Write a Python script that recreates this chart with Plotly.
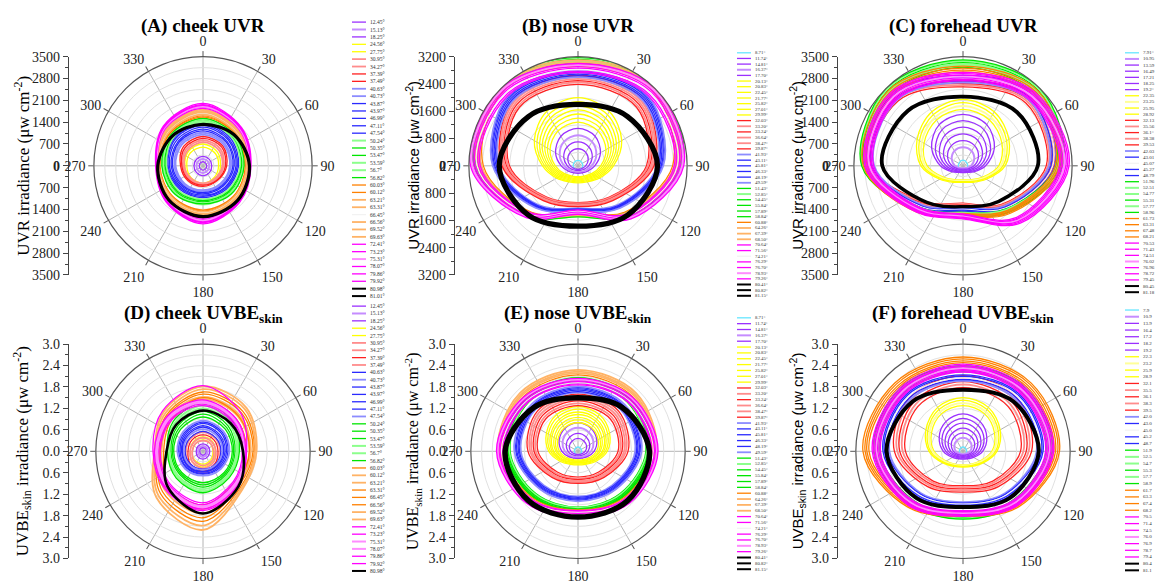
import plotly.graph_objects as go

W, H = 1161, 585
THETA8 = [0, 45, 90, 135, 180, 225, 270, 315]
THETA12 = [0, 30, 60, 90, 120, 150, 180, 210, 240, 270, 300, 330]

# ---------------- (A) cheek UVR ----------------
cheek_labels = ["12.45°", "15.13°", "18.25°", "24.56°", "27.75°", "30.95°", "34.27°", "37.39°", "37.49°",
                "40.63°", "40.73°", "43.87°", "43.97°", "46.99°", "47.11°", "47.54°", "50.24°", "50.35°",
                "53.47°", "53.59°", "56.7°", "56.82°", "60.03°", "60.12°", "63.21°", "63.31°", "66.45°",
                "66.56°", "69.52°", "69.63°", "72.41°", "73.23°", "75.31°", "78.07°", "79.86°", "79.92°",
                "80.98°", "81.01°"]
cheek_uvr = [
    [130, 120, 120, 130, 140, 130, 120, 125],
    [220, 210, 200, 210, 230, 220, 210, 215],
    [300, 290, 280, 300, 320, 300, 290, 295],
    [600, 560, 500, 520, 560, 540, 520, 580],
    [700, 640, 560, 580, 600, 600, 580, 660],
    [760, 720, 620, 560, 560, 560, 600, 700],
    [820, 780, 660, 600, 600, 600, 640, 760],
    [880, 850, 720, 640, 620, 640, 680, 820],
    [940, 900, 760, 660, 660, 680, 720, 880],
    [1000, 950, 860, 800, 780, 820, 880, 960],
    [1060, 1000, 900, 840, 820, 860, 920, 1020],
    [1120, 1060, 960, 880, 860, 900, 980, 1080],
    [1180, 1100, 1000, 920, 900, 940, 1020, 1120],
    [1240, 1160, 1060, 980, 940, 980, 1080, 1180],
    [1300, 1200, 1100, 1020, 980, 1020, 1120, 1240],
    [1350, 1250, 1140, 1060, 1020, 1060, 1160, 1280],
    [1400, 1300, 1200, 1120, 1080, 1120, 1180, 1320],
    [1450, 1340, 1240, 1160, 1120, 1160, 1220, 1360],
    [1480, 1380, 1280, 1200, 1160, 1200, 1260, 1400],
    [1500, 1400, 1300, 1240, 1200, 1240, 1280, 1420],
    [1440, 1360, 1300, 1260, 1240, 1260, 1300, 1380],
    [1520, 1420, 1320, 1280, 1220, 1280, 1320, 1440],
    [1560, 1460, 1360, 1380, 1420, 1380, 1380, 1480],
    [1600, 1480, 1380, 1400, 1460, 1400, 1400, 1500],
    [1640, 1500, 1400, 1420, 1480, 1420, 1420, 1540],
    [1680, 1520, 1420, 1440, 1500, 1440, 1440, 1560],
    [1700, 1540, 1440, 1460, 1520, 1460, 1440, 1580],
    [1720, 1560, 1440, 1480, 1540, 1480, 1460, 1600],
    [1760, 1580, 1460, 1500, 1580, 1500, 1460, 1620],
    [1800, 1600, 1480, 1520, 1600, 1520, 1480, 1660],
    [1840, 1640, 1480, 1560, 1680, 1560, 1460, 1700],
    [1880, 1660, 1500, 1580, 1720, 1580, 1480, 1720],
    [1900, 1680, 1500, 1600, 1760, 1600, 1480, 1740],
    [1940, 1700, 1520, 1620, 1800, 1620, 1500, 1760],
    [1960, 1720, 1520, 1640, 1820, 1640, 1500, 1780],
    [2000, 1740, 1540, 1660, 1860, 1660, 1520, 1800],
    [1320, 1400, 1480, 1560, 1620, 1540, 1440, 1360],
    [1340, 1420, 1500, 1580, 1640, 1560, 1460, 1380],
]
cheek_uvr_colors = ["p", "pl", "p", "y", "y", "rl", "rl", "r", "r", "bl", "bl", "b", "b", "b", "b", "b",
                    "gl", "g", "g", "gl", "gl", "g", "o", "o", "ol", "ol", "w", "ol", "ol", "ol",
                    "m", "m", "ml", "m", "m", "m", "k", "k"]

# ---------------- (B) nose UVR ----------------
nose_labels = ["8.71°", "11.74°", "14.81°", "16.37°", "17.70°", "20.13°", "20.83°", "22.45°", "21.77°",
               "25.82°", "27.01°", "29.99°", "32.03°", "33.20°", "33.24°", "36.64°", "38.47°", "39.87°",
               "41.93°", "43.11°", "45.81°", "46.33°", "48.19°", "49.59°", "51.43°", "52.85°", "54.45°",
               "55.84°", "57.89°", "58.84°", "60.88°", "64.26°", "67.39°", "68.50°", "70.64°", "71.56°",
               "74.21°", "76.29°", "76.70°", "78.93°", "79.26°", "80.41°", "80.82°", "81.15°"]
nose_uvr = [
    [160, 150, 140, 130, 130, 130, 140, 150],
    [500, 456, 345, 224, 145, 110, 100, 110, 145, 224, 345, 456],
    [700, 638, 483, 313, 203, 153, 140, 153, 203, 313, 483, 638],
    [900, 821, 621, 402, 261, 197, 180, 197, 261, 402, 621, 821],
    [1100, 1003, 759, 492, 319, 241, 220, 241, 319, 492, 759, 1003],
    [1280, 1178, 947, 666, 461, 346, 320, 346, 461, 666, 947, 1178],
    [1400, 1288, 1036, 728, 504, 378, 350, 378, 504, 728, 1036, 1288],
    [1520, 1398, 1125, 790, 547, 410, 380, 410, 547, 790, 1125, 1398],
    [1640, 1509, 1214, 853, 590, 443, 410, 443, 590, 853, 1214, 1509],
    [1760, 1619, 1302, 915, 634, 475, 440, 475, 634, 915, 1302, 1619],
    [1880, 1730, 1391, 978, 677, 508, 470, 508, 677, 978, 1391, 1730],
    [2000, 1840, 1480, 1040, 720, 540, 500, 540, 720, 1040, 1480, 1840],
    [2390, 2430, 2010, 1300, 1080, 1300, 2010, 2430],
    [2450, 2480, 2050, 1325, 1105, 1325, 2050, 2480],
    [2500, 2540, 2100, 1355, 1130, 1355, 2100, 2540],
    [2550, 2590, 2140, 1380, 1150, 1380, 2140, 2590],
    [2610, 2650, 2185, 1410, 1175, 1410, 2185, 2650],
    [2660, 2700, 2230, 1440, 1200, 1440, 2230, 2700],
    [2600, 2700, 2325, 1630, 1245, 1630, 2325, 2700],
    [2645, 2740, 2360, 1655, 1265, 1655, 2360, 2740],
    [2690, 2785, 2400, 1680, 1285, 1680, 2400, 2785],
    [2730, 2830, 2440, 1705, 1305, 1705, 2440, 2830],
    [2770, 2870, 2475, 1735, 1325, 1735, 2475, 2870],
    [2800, 2900, 2500, 1750, 1340, 1750, 2500, 2900],
    [3020, 3160, 2840, 1950, 1395, 1950, 2840, 3160],
    [3070, 3210, 2880, 1985, 1420, 1985, 2880, 3210],
    [3120, 3260, 2930, 2015, 1440, 2015, 2930, 3260],
    [3170, 3315, 2975, 2050, 1460, 2050, 2975, 3315],
    [3220, 3365, 3020, 2080, 1485, 2080, 3020, 3365],
    [3250, 3400, 3050, 2100, 1500, 2100, 3050, 3400],
    [2915, 3100, 2775, 1925, 1365, 1925, 2775, 3100],
    [2975, 3170, 2830, 1970, 1390, 1970, 2830, 3170],
    [3040, 3235, 2890, 2010, 1420, 2010, 2890, 3235],
    [3100, 3300, 2950, 2050, 1450, 2050, 2950, 3300],
    [2730, 2910, 2820, 2000, 1290, 1955, 2865, 2910],
    [2775, 2960, 2870, 2035, 1315, 1990, 2915, 2960],
    [2820, 3010, 2915, 2070, 1335, 2020, 2960, 3010],
    [2865, 3055, 2960, 2100, 1355, 2055, 3010, 3055],
    [2910, 3105, 3005, 2135, 1375, 2085, 3055, 3105],
    [2955, 3150, 3055, 2165, 1400, 2120, 3105, 3150],
    [3000, 3200, 3100, 2200, 1420, 2150, 3150, 3200],
    [1760, 2010, 2290, 2010, 1730, 2010, 2270, 2010],
    [1800, 2050, 2330, 2050, 1770, 2050, 2310, 2050],
    [1840, 2090, 2370, 2090, 1810, 2090, 2350, 2090],
]
nose_colors = ["c", "p", "p", "pl", "p", "y", "y", "y", "y", "y", "y", "y",
               "r", "rl", "r", "rl", "rl", "r", "bl", "b", "b", "b", "b", "bl",
               "g", "gl", "g", "g", "g", "g", "o", "ol", "ol", "ol",
               "m", "m", "w", "m", "m", "ml", "m", "k", "k", "k"]

# ---------------- (C) forehead UVR ----------------
forehead_labels = ["7.91°", "10.95", "13.59", "16.49", "17.21", "18.25", "19.2°", "22.35", "23.25", "25.95",
                   "28.92", "32.13", "35.56", "36.1°", "38.38", "39.53", "42.03", "43.01", "45.07", "45.27",
                   "48.79", "51.96", "52.51", "54.77", "55.31", "57.77", "58.96", "61.73", "63.31", "67.48",
                   "68.21", "70.53", "71.43", "74.51", "76.02", "76.96", "78.72", "79.45", "80.45", "81.18"]
forehead_uvr = [
    [180, 160, 150, 140, 130, 140, 150, 160],
    [595, 550, 419, 261, 142, 88, 79, 88, 142, 261, 419, 550],
    [810, 749, 571, 355, 194, 120, 108, 120, 194, 355, 571, 749],
    [1025, 948, 723, 449, 245, 152, 136, 152, 245, 449, 723, 948],
    [1240, 1147, 874, 543, 296, 184, 165, 184, 296, 543, 874, 1147],
    [1450, 1341, 1022, 635, 347, 215, 193, 215, 347, 635, 1022, 1341],
    [1650, 1526, 1163, 723, 394, 244, 220, 244, 394, 723, 1163, 1526],
    [1810, 1700, 1444, 1148, 731, 518, 451, 518, 731, 1148, 1444, 1700],
    [1915, 1798, 1528, 1214, 774, 548, 477, 548, 774, 1214, 1528, 1798],
    [2025, 1901, 1616, 1284, 818, 579, 504, 579, 818, 1284, 1616, 1901],
    [2130, 2000, 1700, 1350, 860, 610, 530, 610, 860, 1350, 1700, 2000],
    [2530, 2850, 2670, 1750, 1195, 1655, 2945, 2945],
    [2585, 2915, 2725, 1785, 1220, 1690, 3010, 3010],
    [2640, 2975, 2785, 1825, 1250, 1730, 3070, 3070],
    [2695, 3040, 2840, 1860, 1275, 1765, 3135, 3135],
    [2750, 3100, 2900, 1900, 1300, 1800, 3200, 3200],
    [2670, 2990, 2760, 1840, 1335, 1795, 2850, 2990],
    [2725, 3055, 2820, 1880, 1365, 1835, 2915, 3055],
    [2785, 3120, 2880, 1920, 1390, 1870, 2975, 3120],
    [2840, 3185, 2940, 1960, 1420, 1910, 3040, 3185],
    [2900, 3250, 3000, 2000, 1450, 1950, 3100, 3250],
    [3160, 3255, 2975, 1955, 1490, 1905, 3020, 3255],
    [3215, 3310, 3025, 1985, 1510, 1935, 3070, 3310],
    [3265, 3360, 3070, 2015, 1535, 1970, 3120, 3360],
    [3315, 3415, 3120, 2050, 1560, 2000, 3170, 3415],
    [3365, 3465, 3170, 2080, 1585, 2030, 3220, 3465],
    [3400, 3500, 3200, 2100, 1600, 2050, 3250, 3500],
    [3010, 3195, 2960, 2020, 1525, 1975, 3010, 3195],
    [3070, 3265, 3025, 2065, 1555, 2015, 3070, 3265],
    [3135, 3330, 3085, 2105, 1590, 2060, 3135, 3330],
    [3200, 3400, 3150, 2150, 1620, 2100, 3200, 3400],
    [2730, 3005, 3095, 2365, 1545, 1910, 2865, 3005],
    [2775, 3050, 3145, 2405, 1575, 1945, 2915, 3050],
    [2820, 3100, 3195, 2445, 1600, 1975, 2960, 3100],
    [2865, 3150, 3245, 2485, 1625, 2005, 3010, 3150],
    [2910, 3200, 3300, 2520, 1650, 2035, 3055, 3200],
    [2955, 3250, 3350, 2560, 1675, 2070, 3105, 3250],
    [3000, 3300, 3400, 2600, 1700, 2100, 3150, 3300],
    [2200, 2420, 2380, 1600, 1300, 1640, 2570, 2480],
    [2240, 2460, 2420, 1630, 1320, 1670, 2610, 2520],
]
forehead_colors = ["c", "pl", "p", "p", "p", "p", "p", "y", "yl", "y", "y",
                   "r", "rl", "r", "rl", "r", "bl", "b", "w", "b", "b",
                   "g", "gl", "gl", "g", "gl", "g", "o", "o", "o", "o",
                   "m", "m", "m", "ml", "m", "m", "m", "k", "k"]

# ---------------- (D) cheek UVBEskin ----------------
cheek_labels_d = cheek_labels[:37]
cheek_uvbe = [
    [0.10, 0.10, 0.09, 0.10, 0.11, 0.10, 0.09, 0.10],
    [0.15, 0.14, 0.13, 0.14, 0.16, 0.15, 0.14, 0.15],
    [0.21, 0.20, 0.19, 0.20, 0.22, 0.21, 0.19, 0.20],
    [0.32, 0.30, 0.28, 0.32, 0.36, 0.34, 0.30, 0.30],
    [0.40, 0.38, 0.34, 0.38, 0.44, 0.42, 0.36, 0.38],
    [0.30, 0.30, 0.30, 0.36, 0.40, 0.36, 0.30, 0.30],
    [0.38, 0.36, 0.36, 0.42, 0.48, 0.42, 0.36, 0.36],
    [0.46, 0.44, 0.42, 0.48, 0.56, 0.50, 0.42, 0.44],
    [0.54, 0.50, 0.48, 0.54, 0.62, 0.56, 0.48, 0.50],
    [0.56, 0.52, 0.50, 0.50, 0.50, 0.50, 0.50, 0.52],
    [0.62, 0.58, 0.54, 0.52, 0.52, 0.54, 0.54, 0.58],
    [0.68, 0.62, 0.58, 0.56, 0.56, 0.58, 0.58, 0.62],
    [0.72, 0.66, 0.62, 0.58, 0.58, 0.60, 0.60, 0.66],
    [0.78, 0.72, 0.66, 0.62, 0.62, 0.64, 0.64, 0.70],
    [0.82, 0.76, 0.70, 0.66, 0.64, 0.66, 0.68, 0.74],
    [0.86, 0.80, 0.74, 0.70, 0.68, 0.70, 0.72, 0.78],
    [0.96, 0.88, 0.82, 0.84, 0.88, 0.84, 0.82, 0.88],
    [1.04, 0.94, 0.86, 0.88, 0.94, 0.88, 0.86, 0.94],
    [1.12, 1.00, 0.90, 0.92, 1.00, 0.92, 0.90, 1.00],
    [1.20, 1.06, 0.94, 0.96, 1.06, 0.98, 0.94, 1.06],
    [1.28, 1.12, 0.98, 1.00, 1.12, 1.02, 0.98, 1.12],
    [1.36, 1.18, 1.02, 1.04, 1.16, 1.06, 1.00, 1.18],
    [1.40, 1.30, 1.22, 1.24, 1.50, 1.36, 1.10, 1.24],
    [1.46, 1.38, 1.30, 1.30, 1.62, 1.44, 1.16, 1.30],
    [1.52, 1.44, 1.34, 1.36, 1.74, 1.52, 1.20, 1.36],
    [1.60, 1.52, 1.40, 1.40, 1.86, 1.60, 1.24, 1.40],
    [1.50, 1.40, 1.30, 1.30, 1.60, 1.46, 1.20, 1.30],
    [1.66, 1.58, 1.44, 1.46, 1.96, 1.68, 1.28, 1.44],
    [1.74, 1.66, 1.46, 1.50, 2.08, 1.76, 1.32, 1.50],
    [1.82, 1.72, 1.50, 1.54, 2.20, 1.84, 1.36, 1.56],
    [1.28, 1.16, 1.10, 1.20, 1.44, 1.30, 1.20, 1.24],
    [1.32, 1.20, 1.14, 1.24, 1.50, 1.34, 1.24, 1.28],
    [1.36, 1.24, 1.16, 1.28, 1.54, 1.38, 1.28, 1.32],
    [1.40, 1.28, 1.18, 1.32, 1.58, 1.42, 1.32, 1.36],
    [1.44, 1.30, 1.20, 1.36, 1.62, 1.46, 1.36, 1.40],
    [1.84, 1.50, 1.22, 1.40, 1.66, 1.50, 1.40, 1.60],
    [1.14, 1.10, 1.12, 1.40, 1.74, 1.40, 1.02, 1.06],
]
cheek_uvbe_colors = ["p", "pl", "p", "y", "y", "rl", "rl", "r", "rl", "b", "bl", "b", "b", "b", "b", "bl",
                     "g", "g", "g", "gl", "gl", "g", "o", "ol", "ol", "o", "o", "o", "ol", "ol",
                     "m", "m", "ml", "ml", "m", "m", "k"]

# ---------------- (E) nose UVBEskin ----------------
nose_uvbe = [
    [0.12, 0.11, 0.10, 0.10, 0.10, 0.10, 0.10, 0.11],
    [0.36, 0.33, 0.28, 0.20, 0.13, 0.10, 0.09, 0.10, 0.13, 0.20, 0.28, 0.33],
    [0.50, 0.46, 0.38, 0.28, 0.19, 0.14, 0.13, 0.14, 0.19, 0.28, 0.38, 0.46],
    [0.66, 0.61, 0.50, 0.37, 0.25, 0.18, 0.17, 0.18, 0.25, 0.37, 0.50, 0.61],
    [0.80, 0.74, 0.61, 0.45, 0.30, 0.22, 0.20, 0.22, 0.30, 0.45, 0.61, 0.74],
    [0.80, 0.76, 0.65, 0.52, 0.36, 0.27, 0.24, 0.27, 0.36, 0.52, 0.65, 0.76],
    [0.88, 0.83, 0.71, 0.58, 0.40, 0.30, 0.27, 0.30, 0.40, 0.58, 0.71, 0.83],
    [0.95, 0.90, 0.77, 0.62, 0.43, 0.32, 0.29, 0.32, 0.43, 0.62, 0.77, 0.90],
    [1.03, 0.98, 0.84, 0.68, 0.47, 0.35, 0.31, 0.35, 0.47, 0.68, 0.84, 0.98],
    [1.10, 1.04, 0.89, 0.72, 0.50, 0.37, 0.33, 0.37, 0.50, 0.72, 0.89, 1.04],
    [1.18, 1.12, 0.96, 0.77, 0.53, 0.40, 0.36, 0.40, 0.53, 0.77, 0.96, 1.12],
    [1.25, 1.19, 1.02, 0.82, 0.57, 0.42, 0.38, 0.42, 0.57, 0.82, 1.02, 1.19],
    [1.28, 1.28, 1.12, 0.82, 0.72, 0.82, 1.12, 1.28],
    [1.34, 1.34, 1.18, 0.87, 0.76, 0.87, 1.18, 1.34],
    [1.41, 1.41, 1.23, 0.91, 0.79, 0.91, 1.23, 1.41],
    [1.47, 1.47, 1.29, 0.95, 0.83, 0.95, 1.29, 1.47],
    [1.54, 1.54, 1.34, 0.99, 0.86, 0.99, 1.34, 1.54],
    [1.60, 1.60, 1.40, 1.03, 0.90, 1.03, 1.40, 1.60],
    [1.64, 1.67, 1.60, 1.35, 1.26, 1.35, 1.60, 1.67],
    [1.67, 1.70, 1.64, 1.38, 1.29, 1.38, 1.64, 1.70],
    [1.71, 1.74, 1.67, 1.41, 1.32, 1.41, 1.67, 1.74],
    [1.75, 1.78, 1.71, 1.44, 1.34, 1.44, 1.71, 1.78],
    [1.78, 1.81, 1.74, 1.47, 1.37, 1.47, 1.74, 1.81],
    [1.82, 1.85, 1.78, 1.50, 1.40, 1.50, 1.78, 1.85],
    [1.92, 1.95, 1.90, 1.67, 1.56, 1.67, 1.90, 1.95],
    [1.95, 1.98, 1.93, 1.70, 1.59, 1.70, 1.93, 1.98],
    [1.98, 2.02, 1.96, 1.73, 1.61, 1.73, 1.96, 2.02],
    [2.01, 2.05, 1.99, 1.76, 1.64, 1.76, 1.99, 2.05],
    [2.04, 2.08, 2.02, 1.78, 1.66, 1.78, 2.02, 2.08],
    [2.06, 2.10, 2.04, 1.80, 1.68, 1.80, 2.04, 2.10],
    [2.14, 2.16, 2.07, 1.83, 1.64, 1.83, 2.11, 2.16],
    [2.19, 2.21, 2.11, 1.87, 1.67, 1.87, 2.15, 2.21],
    [2.23, 2.25, 2.16, 1.91, 1.71, 1.91, 2.20, 2.25],
    [2.28, 2.30, 2.20, 1.95, 1.74, 1.95, 2.24, 2.30],
    [1.86, 1.96, 2.04, 1.87, 1.66, 1.87, 2.07, 1.96],
    [1.89, 1.99, 2.07, 1.90, 1.68, 1.90, 2.11, 1.99],
    [1.92, 2.02, 2.11, 1.93, 1.71, 1.93, 2.14, 2.02],
    [1.95, 2.05, 2.14, 1.96, 1.74, 1.96, 2.18, 2.05],
    [1.98, 2.09, 2.17, 1.99, 1.77, 1.99, 2.21, 2.09],
    [2.01, 2.12, 2.21, 2.02, 1.79, 2.02, 2.25, 2.12],
    [2.04, 2.15, 2.24, 2.05, 1.82, 2.05, 2.28, 2.15],
    [1.46, 1.70, 1.96, 1.92, 1.80, 1.92, 2.00, 1.70],
    [1.50, 1.74, 2.00, 1.96, 1.84, 1.96, 2.04, 1.74],
    [1.54, 1.78, 2.04, 2.00, 1.88, 2.00, 2.08, 1.78],
]

# ---------------- (F) forehead UVBEskin ----------------
forehead_labels_f = ["7.9", "10.9", "13.9", "16.4", "17.2", "18.2", "19.2", "22.3", "23.2", "25.9",
                     "28.9", "32.1", "35.5", "36.1", "38.3", "39.5", "42.0", "43.0", "45.0", "45.2",
                     "48.7", "51.9", "52.5", "54.7", "55.3", "57.7", "58.9", "61.7", "63.3", "67.4",
                     "68.2", "70.5", "71.4", "74.5", "76.0", "76.9", "78.7", "79.4", "80.4", "81.1"]
forehead_uvbe = [
    [0.12, 0.11, 0.10, 0.10, 0.10, 0.10, 0.10, 0.11],
    [0.38, 0.35, 0.28, 0.20, 0.12, 0.09, 0.08, 0.09, 0.12, 0.20, 0.28, 0.35],
    [0.51, 0.47, 0.38, 0.27, 0.17, 0.12, 0.11, 0.12, 0.17, 0.27, 0.38, 0.47],
    [0.65, 0.59, 0.48, 0.34, 0.21, 0.15, 0.14, 0.15, 0.21, 0.34, 0.48, 0.59],
    [0.79, 0.72, 0.58, 0.41, 0.26, 0.18, 0.17, 0.18, 0.26, 0.41, 0.58, 0.72],
    [0.92, 0.84, 0.68, 0.48, 0.30, 0.21, 0.19, 0.21, 0.30, 0.48, 0.68, 0.84],
    [1.05, 0.96, 0.77, 0.55, 0.34, 0.24, 0.22, 0.24, 0.34, 0.55, 0.77, 0.96],
    [1.28, 1.21, 1.02, 0.81, 0.55, 0.42, 0.38, 0.42, 0.55, 0.81, 1.02, 1.21],
    [1.35, 1.28, 1.08, 0.85, 0.58, 0.44, 0.40, 0.44, 0.58, 0.85, 1.08, 1.28],
    [1.43, 1.35, 1.14, 0.91, 0.62, 0.46, 0.42, 0.46, 0.62, 0.91, 1.14, 1.35],
    [1.50, 1.42, 1.20, 0.95, 0.65, 0.49, 0.44, 0.49, 0.65, 0.95, 1.20, 1.42],
    [1.78, 1.78, 1.61, 1.18, 0.96, 1.18, 1.61, 1.78],
    [1.87, 1.87, 1.69, 1.23, 1.00, 1.23, 1.69, 1.87],
    [1.95, 1.95, 1.77, 1.29, 1.05, 1.29, 1.77, 1.95],
    [2.04, 2.04, 1.84, 1.34, 1.09, 1.34, 1.84, 2.04],
    [2.12, 2.12, 1.92, 1.40, 1.14, 1.40, 1.92, 2.12],
    [1.97, 2.07, 2.06, 1.66, 1.42, 1.66, 2.06, 2.07],
    [2.01, 2.12, 2.11, 1.69, 1.45, 1.69, 2.11, 2.12],
    [2.05, 2.16, 2.15, 1.73, 1.48, 1.73, 2.15, 2.16],
    [2.10, 2.21, 2.20, 1.76, 1.51, 1.76, 2.20, 2.21],
    [2.14, 2.25, 2.24, 1.80, 1.54, 1.80, 2.24, 2.25],
    [2.23, 2.33, 2.33, 1.95, 1.77, 1.95, 2.33, 2.33],
    [2.27, 2.36, 2.36, 1.98, 1.80, 1.98, 2.36, 2.36],
    [2.30, 2.40, 2.40, 2.02, 1.82, 2.02, 2.40, 2.40],
    [2.34, 2.44, 2.44, 2.05, 1.85, 2.05, 2.44, 2.44],
    [2.38, 2.48, 2.48, 2.08, 1.88, 2.08, 2.48, 2.48],
    [2.40, 2.50, 2.50, 2.10, 1.90, 2.10, 2.50, 2.50],
    [2.48, 2.54, 2.54, 2.07, 1.71, 2.07, 2.63, 2.54],
    [2.53, 2.59, 2.59, 2.11, 1.75, 2.11, 2.69, 2.59],
    [2.59, 2.65, 2.65, 2.16, 1.78, 2.16, 2.74, 2.65],
    [2.64, 2.70, 2.70, 2.20, 1.82, 2.20, 2.80, 2.70],
    [2.22, 2.28, 2.31, 1.96, 1.66, 1.96, 2.31, 2.28],
    [2.26, 2.31, 2.35, 1.99, 1.68, 1.99, 2.35, 2.31],
    [2.29, 2.35, 2.39, 2.02, 1.71, 2.02, 2.39, 2.35],
    [2.33, 2.39, 2.43, 2.05, 1.74, 2.05, 2.43, 2.39],
    [2.37, 2.43, 2.46, 2.09, 1.77, 2.09, 2.46, 2.43],
    [2.40, 2.46, 2.50, 2.12, 1.79, 2.12, 2.50, 2.46],
    [2.44, 2.50, 2.54, 2.15, 1.82, 2.15, 2.54, 2.50],
    [1.70, 1.96, 2.10, 1.83, 1.54, 1.83, 2.12, 1.96],
    [1.74, 2.00, 2.14, 1.87, 1.58, 1.87, 2.16, 2.00],
]

# ---------------- styles ----------------
PALETTE = {
    "c": "#66e6ff", "p": "#9b30ff", "pl": "#c58cff",
    "y": "#ffff00", "yl": "#ffff99",
    "r": "#ff2020", "rl": "#ff8c8c",
    "b": "#2a2aff", "bl": "#8c8cff",
    "g": "#00e600", "gl": "#8cff8c",
    "o": "#ff8000", "ol": "#ffb366",
    "m": "#ff00ff", "ml": "#ff8cff",
    "k": "#000000", "w": "#f2f2f2",
}
WIDTH = {"k": 2.6, "pl": 2.0, "yl": 2.0, "rl": 1.8, "bl": 1.8, "gl": 2.0, "ol": 1.8, "ml": 2.0, "w": 1.2}

SERIF = "Liberation Serif"
SANS = "Liberation Sans"

panels = [
    dict(title="<b>(A) cheek UVR</b>", labels=cheek_labels, values=cheek_uvr, colors=cheek_uvr_colors,
         cx=203, cy=163, r=112, rmax=3500, step=700, grid=350, fmt="{:.0f}",
         ytitle="UVR irradiance (μw cm<sup>-2</sup>)", yfont=SERIF, ysize=17, ax=69, tx=22,
         lx=352, ly=15.5, dy=7.6, lfs=5.5),
    dict(title="<b>(B) nose UVR</b>", labels=nose_labels, values=nose_uvr, colors=nose_colors,
         cx=578, cy=163, r=112, rmax=3200, step=800, grid=400, fmt="{:.0f}",
         ytitle="UVR irradiance (μw cm<sup>-2</sup>)", yfont=SANS, ysize=15, ax=455, tx=413,
         lx=737, ly=47, dy=5.8, lfs=4.8),
    dict(title="<b>(C) forehead UVR</b>", labels=forehead_labels, values=forehead_uvr, colors=forehead_colors,
         cx=963, cy=163, r=112, rmax=3500, step=700, grid=350, fmt="{:.0f}",
         ytitle="UVR irradiance (μw cm<sup>-2</sup>)", yfont=SANS, ysize=15, ax=838, tx=797,
         lx=1125, ly=47, dy=6.3, lfs=5.0),
    dict(title="<b>(D) cheek UVBE<sub>skin</sub></b>", labels=cheek_labels_d, values=cheek_uvbe,
         colors=cheek_uvbe_colors, cx=203, cy=456, r=110, rmax=3.0, step=0.6, grid=0.3, fmt="{:.1f}",
         ytitle="UVBE<sub>skin</sub> irradiance (μw cm<sup>-2</sup>)", yfont=SERIF, ysize=17, ax=69, tx=22,
         lx=352, ly=307, dy=7.55, lfs=5.5),
    dict(title="<b>(E) nose UVBE<sub>skin</sub></b>", labels=nose_labels, values=nose_uvbe, colors=nose_colors,
         cx=578, cy=456, r=110, rmax=3.0, step=0.6, grid=0.3, fmt="{:.1f}",
         ytitle="UVBE<sub>skin</sub> irradiance (μw cm<sup>-2</sup>)", yfont=SERIF, ysize=16, ax=455, tx=413,
         lx=737, ly=319, dy=6.0, lfs=4.8),
    dict(title="<b>(F) forehead UVBE<sub>skin</sub></b>", labels=forehead_labels_f, values=forehead_uvbe,
         colors=forehead_colors, cx=963, cy=456, r=110, rmax=3.0, step=0.6, grid=0.3, fmt="{:.1f}",
         ytitle="UVBE<sub>skin</sub> irradiance (μw cm<sup>-2</sup>)", yfont=SANS, ysize=15, ax=838, tx=797,
         lx=1125, ly=311, dy=6.85, lfs=5.0),
]


def px(x):
    return x / W


def py(y):
    return 1 - y / H


fig = go.Figure()
layout = dict(width=W, height=H, margin=dict(l=0, r=0, t=0, b=0), autosize=False,
              paper_bgcolor="white", plot_bgcolor="white", showlegend=False)
annotations = []
shapes = []

ang_vals = list(range(0, 360, 30))

for k, p in enumerate(panels):
    n = k + 1
    pid = "polar" if n == 1 else f"polar{n}"
    for lab, vals, ck in zip(p["labels"], p["values"], p["colors"]):
        theta = THETA12 if len(vals) == 12 else THETA8
        # closed loop: repeat the first point exactly so the spline is smoothed as a closed curve
        rr = list(vals) + [vals[0]]
        th = theta + [theta[0]]
        fig.add_trace(go.Scatterpolar(
            r=rr, theta=th, mode="lines", subplot=pid, name=lab,
            line=dict(color=PALETTE[ck], width=WIDTH.get(ck, 1.3), shape="spline", smoothing=1.0),
            hoverinfo="skip", showlegend=False))
    nrings = int(round(p["rmax"] / p["grid"]))
    rgrid = [p["grid"] * i for i in range(1, nrings + 1)]
    layout[pid] = dict(
        domain=dict(x=[px(p["cx"] - p["r"]), px(p["cx"] + p["r"])],
                    y=[py(p["cy"] + p["r"]), py(p["cy"] - p["r"])]),
        bgcolor="white",
        angularaxis=dict(rotation=90, direction="clockwise", tickmode="array",
                         tickvals=ang_vals, ticktext=[str(a) for a in ang_vals],
                         showline=True, linecolor="#555555", linewidth=1.2,
                         ticks="outside", ticklen=5, tickcolor="#555555",
                         showgrid=True, gridcolor="#b4b4b4", gridwidth=0.9,
                         tickfont=dict(family=SERIF, size=14, color="#222222")),
        radialaxis=dict(range=[0, p["rmax"]], showticklabels=False, ticks="", showline=False,
                        tickmode="array", tickvals=rgrid, gridcolor="#e1e1e1", gridwidth=0.8),
    )
    # vertical mirrored scale on the left
    nst = int(round(p["rmax"] / p["step"]))
    tv = [p["step"] * i for i in range(-nst, nst + 1)]
    tt = []
    for v in tv:
        s = p["fmt"].format(abs(v))
        if abs(v) < 1e-9 and p["fmt"] == "{:.0f}":
            s = "<b>0</b>"
        tt.append(s)
    xa = "xaxis" if n == 1 else f"xaxis{n}"
    ya = "yaxis" if n == 1 else f"yaxis{n}"
    xr = "x" if n == 1 else f"x{n}"
    yr = "y" if n == 1 else f"y{n}"
    fig.add_trace(go.Scatter(x=[0.5], y=[0], xaxis=xr, yaxis=yr, mode="markers",
                             marker=dict(opacity=0), hoverinfo="skip", showlegend=False))
    layout[xa] = dict(domain=[px(p["ax"]), px(p["ax"] + 2)], range=[0, 1], visible=False, anchor=yr)
    layout[ya] = dict(domain=[py(p["cy"] + p["r"]), py(p["cy"] - p["r"])], range=[-p["rmax"], p["rmax"]],
                      anchor=xr, side="left", tickmode="array", tickvals=tv, ticktext=tt,
                      ticks="outside", ticklen=5, tickcolor="#444444", showline=True,
                      linecolor="#444444", linewidth=1.2, showgrid=False, zeroline=False,
                      tickfont=dict(family=SERIF, size=14, color="#222222"),
                      minor=dict(tickmode="linear", tick0=0, dtick=p["step"] / 2, ticks="outside",
                                 ticklen=3, tickcolor="#444444", showgrid=False),
                      fixedrange=True)
    # title
    annotations.append(dict(x=px(p["cx"]), y=py(20 if n <= 3 else 315), xref="paper", yref="paper",
                            text=p["title"], showarrow=False, xanchor="center", yanchor="middle",
                            font=dict(family=SERIF, size=19, color="black")))
    # y title
    annotations.append(dict(x=px(p["tx"]), y=py(p["cy"]), xref="paper", yref="paper",
                            text=p["ytitle"], showarrow=False, textangle=-90,
                            xanchor="center", yanchor="middle",
                            font=dict(family=p["yfont"], size=p["ysize"], color="black")))
    # legend (built from labels + colors)
    for i, (lab, ck) in enumerate(zip(p["labels"], p["colors"])):
        yy = p["ly"] + i * p["dy"]
        shapes.append(dict(type="line", xref="paper", yref="paper",
                           x0=px(p["lx"]), x1=px(p["lx"] + 14), y0=py(yy), y1=py(yy),
                           line=dict(color=PALETTE[ck], width=min(WIDTH.get(ck, 1.3), 2.0))))
        annotations.append(dict(x=px(p["lx"] + 16), y=py(yy), xref="paper", yref="paper",
                                text=lab, showarrow=False, xanchor="left", yanchor="middle",
                                font=dict(family=SERIF, size=p["lfs"], color="#333333")))

layout["annotations"] = annotations
layout["shapes"] = shapes
fig.update_layout(**layout)
fig.write_html("out.html", config={"displayModeBar": False},
               post_script="document.body.style.margin='0px';document.body.style.padding='0px';")
